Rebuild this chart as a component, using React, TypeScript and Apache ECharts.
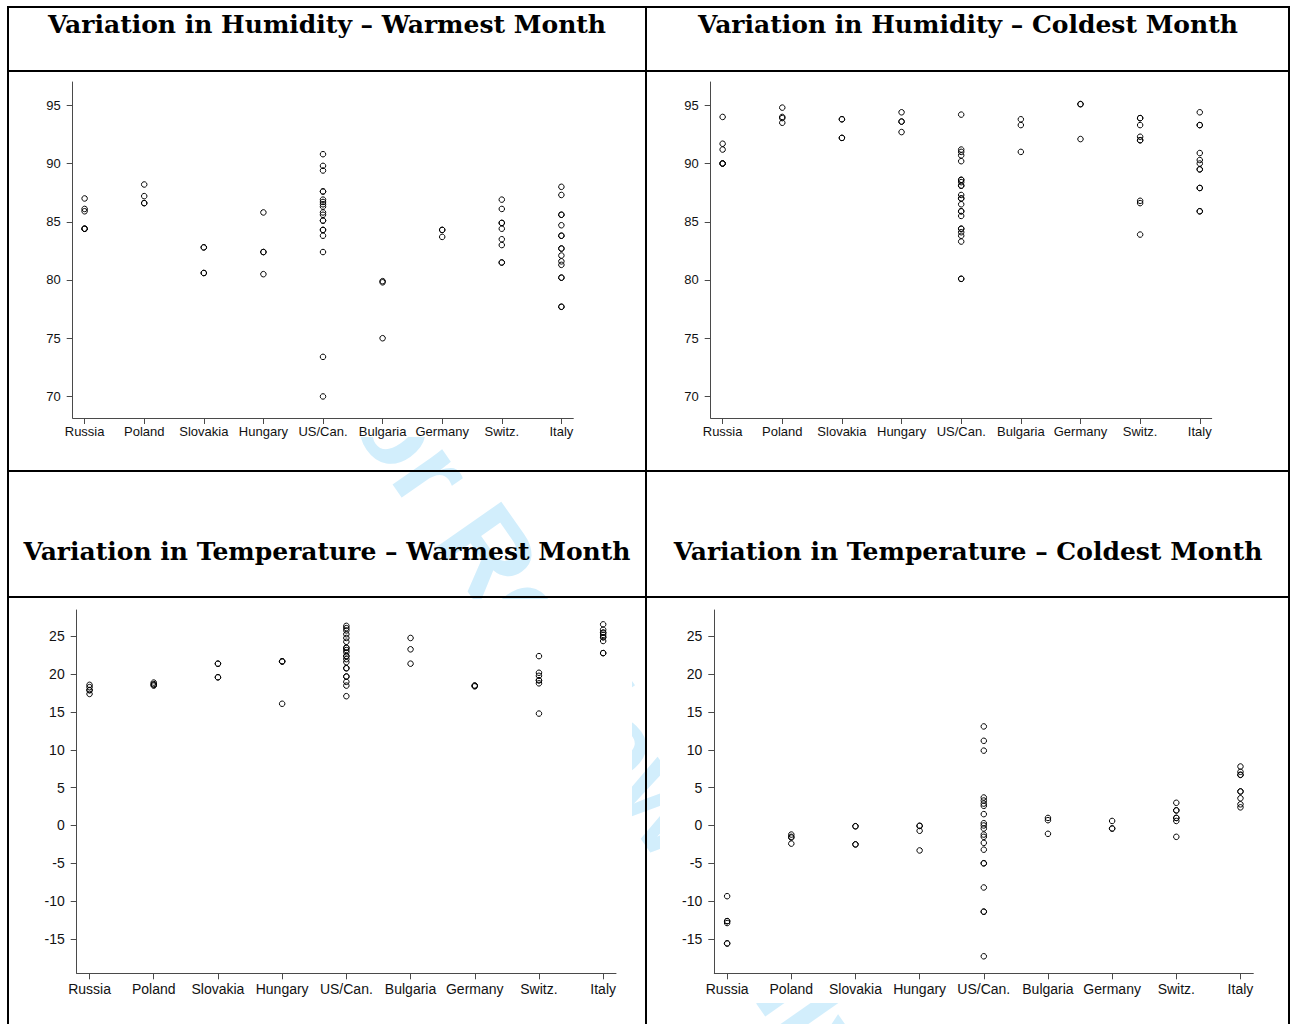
import React, { useEffect, useRef } from "react";
import * as echarts from "echarts";

const countries = ["Russia", "Poland", "Slovakia", "Hungary", "US/Can.", "Bulgaria", "Germany", "Switz.", "Italy"];

const titles = [
  "Variation in Humidity \u2013 Warmest Month",
  "Variation in Humidity \u2013 Coldest Month",
  "Variation in Temperature \u2013 Warmest Month",
  "Variation in Temperature \u2013 Coldest Month",
];

const watermark = "For Review Only";

const humidityTicks = [70, 75, 80, 85, 90, 95];
const temperatureTicks = [-15, -10, -5, 0, 5, 10, 15, 20, 25];

// one inner list per country, in the order of `countries`
const humidityWarmest: number[][] = [
  [87.0, 86.1, 85.9, 84.4, 84.4, 84.4],
  [88.2, 87.2, 86.6, 86.6],
  [82.8, 82.8, 80.6, 80.6],
  [85.8, 82.4, 82.4, 80.5],
  [90.8, 89.8, 89.4, 87.6, 87.6, 86.9, 86.7, 86.5, 86.3, 85.8, 85.6, 85.1, 85.1, 84.3, 84.3, 83.8, 82.4, 73.4, 70.0],
  [79.9, 79.8, 75.0],
  [84.3, 84.3, 83.7],
  [86.9, 86.1, 84.9, 84.9, 84.4, 83.5, 83.0, 81.5, 81.5],
  [88.0, 87.3, 85.6, 85.6, 84.7, 83.8, 83.8, 82.7, 82.7, 82.1, 81.6, 81.3, 80.2, 80.2, 77.7, 77.7],
];

const humidityColdest: number[][] = [
  [94.0, 91.7, 91.2, 90.0, 90.0, 90.0],
  [94.8, 94.0, 93.9, 93.5],
  [93.8, 93.8, 92.2, 92.2],
  [94.4, 93.6, 93.6, 92.7],
  [94.2, 91.2, 91.0, 90.7, 90.2, 88.6, 88.6, 88.4, 88.1, 88.1, 87.3, 87.0, 87.0, 86.5, 85.9, 85.9, 85.5, 84.4, 84.4, 84.1, 83.8, 83.3, 80.1, 80.1],
  [93.8, 93.3, 91.0],
  [95.1, 95.1, 92.1],
  [93.9, 93.9, 93.3, 92.3, 92.0, 92.0, 86.8, 86.6, 83.9],
  [94.4, 93.3, 93.3, 90.9, 90.3, 90.0, 89.5, 89.5, 87.9, 87.9, 85.9, 85.9],
];

const temperatureWarmest: number[][] = [
  [18.6, 18.3, 17.9, 17.9, 17.4],
  [18.9, 18.7, 18.6, 18.5],
  [21.4, 21.4, 19.6, 19.6],
  [21.7, 21.7, 21.7, 16.1],
  [26.4, 26.1, 25.8, 25.3, 24.8, 24.3, 23.5, 23.5, 23.2, 22.9, 22.4, 22.4, 22.0, 21.6, 20.8, 20.8, 19.7, 19.7, 19.0, 18.5, 17.1],
  [24.8, 23.3, 21.4],
  [18.5, 18.5, 18.4],
  [22.4, 20.2, 19.8, 19.2, 19.2, 18.8, 14.8],
  [26.6, 25.9, 25.5, 25.5, 25.2, 24.9, 24.9, 24.4, 22.8, 22.8],
];

const temperatureColdest: number[][] = [
  [-9.35, -12.65, -12.65, -12.9, -15.6, -15.6],
  [-1.2, -1.5, -1.6, -2.4],
  [-0.1, -0.1, -2.5, -2.5],
  [-0.05, -0.05, -0.7, -3.3],
  [13.1, 11.2, 9.9, 3.7, 3.3, 2.9, 2.6, 1.5, 0.3, 0.0, -0.4, -1.2, -1.5, -2.3, -3.2, -5.0, -5.0, -8.2, -11.4, -11.4, -17.3],
  [1.0, 0.7, -1.1],
  [0.6, -0.4, -0.4],
  [3.0, 2.0, 2.0, 1.0, 1.0, 0.6, -1.5],
  [7.8, 7.1, 6.7, 6.7, 4.5, 4.5, 3.6, 2.8, 2.4],
];

const panels = [
  { data: humidityWarmest, ticks: humidityTicks, min: 68.15, max: 97, grid: { left: 72.7, top: 82, width: 500.6, height: 336 }, font: 13, xMargin: 7 },
  { data: humidityColdest, ticks: humidityTicks, min: 68.15, max: 97, grid: { left: 710.7, top: 82, width: 501, height: 336 }, font: 13, xMargin: 7 },
  { data: temperatureWarmest, ticks: temperatureTicks, min: -19.55, max: 28.5, grid: { left: 76.7, top: 610, width: 539.3, height: 363.3 }, font: 14, xMargin: 9 },
  { data: temperatureColdest, ticks: temperatureTicks, min: -19.55, max: 28.5, grid: { left: 714.3, top: 610, width: 539, height: 363.3 }, font: 14, xMargin: 9 },
];

const catIdx = countries.map((_, i) => i);

export default function App() {
  const ref = useRef<HTMLDivElement>(null);
  useEffect(() => {
    if (!ref.current) return;
    const chart = echarts.init(ref.current, null, { renderer: "svg" });
    const axisColor = "#4a4a4a";
    const labelFont = '"Liberation Sans", Arial, sans-serif';

    const grids = panels.map((p) => ({ ...p.grid, containLabel: false }));
    const xAxes = panels.map((p, i) => ({
      type: "value",
      gridIndex: i,
      min: -0.2,
      max: 8.2,
      z: 10,
      splitLine: { show: false },
      axisLine: { show: true, onZero: false, lineStyle: { color: axisColor, width: 1 } },
      axisTick: { show: true, inside: false, length: 6, customValues: catIdx, lineStyle: { color: axisColor } },
      axisLabel: {
        customValues: catIdx,
        formatter: (v: number) => countries[Math.round(v)] ?? "",
        color: "#111",
        fontSize: p.font,
        fontFamily: labelFont,
        margin: p.xMargin,
      },
    }));
    const yAxes = panels.map((p, i) => ({
      type: "value",
      gridIndex: i,
      min: p.min,
      max: p.max,
      z: 10,
      splitLine: { show: false },
      axisLine: { show: true, onZero: false, lineStyle: { color: axisColor, width: 1 } },
      axisTick: { show: true, length: 6, customValues: p.ticks, lineStyle: { color: axisColor } },
      axisLabel: {
        customValues: p.ticks,
        color: "#111",
        fontSize: p.font,
        fontFamily: labelFont,
        margin: 12,
      },
    }));

    const series = panels.map((p, i) => ({
      type: "scatter",
      xAxisIndex: i,
      yAxisIndex: i,
      z: 12,
      symbol: "circle",
      symbolSize: 5.5,
      itemStyle: { color: "rgba(0,0,0,0)", borderColor: "#000", borderWidth: 1, opacity: 1 },
      emphasis: { disabled: true },
      data: p.data.flatMap((vals, ci) => vals.map((v) => [ci, v])),
    }));

    const border = { stroke: "#000", lineWidth: 2 };
    const white = { fill: "#fff" };
    const titleStyle = (text: string, x: number, y: number) => ({
      type: "text",
      x,
      y,
      z: 20,
      style: {
        text,
        fill: "#000",
        font: 'bold 25px "DejaVu Serif", serif',
        textAlign: "center",
        textVerticalAlign: "middle",
      },
    });

    const graphic = [
      {
        type: "text",
        x: 340,
        y: 340,
        rotation: -0.96,
        z: 1,
        style: {
          text: watermark,
          fill: "#d2eefc",
          font: 'bold 115px "Liberation Sans", Arial, sans-serif',
          textAlign: "left",
          textVerticalAlign: "middle",
        },
      },
      { type: "rect", z: 2, shape: { x: 10, y: 73, width: 635, height: 364 }, style: white },
      { type: "rect", z: 2, shape: { x: 648, y: 73, width: 640, height: 364 }, style: white },
      { type: "rect", z: 2, shape: { x: 10, y: 599, width: 622, height: 404 }, style: white },
      { type: "rect", z: 2, shape: { x: 660, y: 599, width: 628, height: 404 }, style: white },
      { type: "rect", z: 5, shape: { x: 8, y: 7, width: 1281, height: 1040 }, style: { ...border, fill: "none" } },
      { type: "line", z: 5, shape: { x1: 646, y1: 7, x2: 646, y2: 1030 }, style: border },
      { type: "line", z: 5, shape: { x1: 8, y1: 71, x2: 1289, y2: 71 }, style: border },
      { type: "line", z: 5, shape: { x1: 8, y1: 471, x2: 1289, y2: 471 }, style: border },
      { type: "line", z: 5, shape: { x1: 8, y1: 597, x2: 1289, y2: 597 }, style: border },
      titleStyle(titles[0], 327, 24),
      titleStyle(titles[1], 968, 24),
      titleStyle(titles[2], 327, 551),
      titleStyle(titles[3], 968, 551),
    ];

    chart.setOption({
      animation: false,
      backgroundColor: "#fff",
      grid: grids,
      xAxis: xAxes,
      yAxis: yAxes,
      series,
      graphic,
    } as any);
    return () => chart.dispose();
  }, []);
  return <div ref={ref} style={{ position: "fixed", left: 0, top: 0, width: 1292, height: 1024 }} />;
}
